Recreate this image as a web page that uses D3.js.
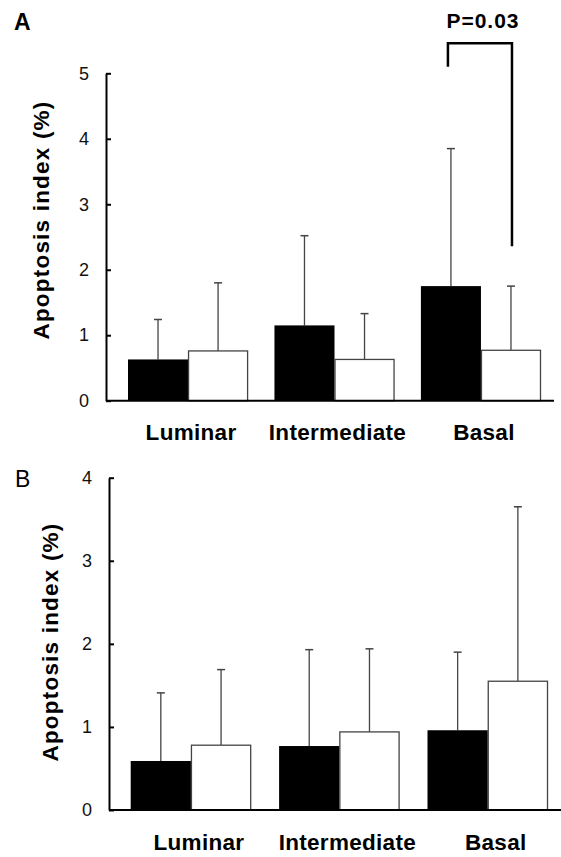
<!DOCTYPE html>
<html>
<head>
<meta charset="utf-8">
<script src="https://cdn.jsdelivr.net/npm/d3@7/dist/d3.min.js"></script>
<style>
  html, body { margin: 0; padding: 0; background: #fff; }
  svg { display: block; font-family: "Liberation Sans", Arial, Helvetica, sans-serif; }
</style>
</head>
<body>
<div id="chart"></div>
<script>
// categories and values
const categories = ["Luminar", "Intermediate", "Basal"];
const series = ["filled", "open"];

// panel A: means and SD
const aFilled = [0.63, 1.15, 1.75];
const aFilledSd = [0.61, 1.37, 2.10];
const aOpen = [0.76, 0.63, 0.77];
const aOpenSd = [1.04, 0.70, 0.98];
const aTicks = [0, 1, 2, 3, 4, 5];
const aBracket = [5.10, 5.46, 2.36]; // left end, top, right end
const aPText = "P=0.03";

// panel B
const bFilled = [0.59, 0.77, 0.96];
const bFilledSd = [0.82, 1.16, 0.94];
const bOpen = [0.78, 0.94, 1.55];
const bOpenSd = [0.91, 1.00, 2.10];
const bTicks = [0, 1, 2, 3, 4];

const yLabel = "Apoptosis index (%)";

const width = 561, height = 857;
const svg = d3.select("#chart").append("svg")
    .attr("width", width).attr("height", height);

function rows(filled, filledSd, open, openSd) {
    return categories.map((c, i) => ({
        cat: c,
        vals: [
            {s: "filled", v: filled[i], sd: filledSd[i]},
            {s: "open", v: open[i], sd: openSd[i]}
        ]
    }));
}

function drawPanel(opt) {
    const g = svg.append("g");
    const y = d3.scaleLinear().domain([0, opt.max]).range([opt.bottom, opt.top]);
    const x0 = d3.scaleBand().domain(categories).range(opt.barRange).paddingInner(opt.pad).paddingOuter(0);
    const x1 = d3.scaleBand().domain(series).range([0, x0.bandwidth()]);

    // y axis, ticks pointing inward
    const yAxis = d3.axisLeft(y).tickValues(opt.ticks).tickFormat(d3.format("d"))
        .tickSizeInner(-5).tickSizeOuter(0).tickPadding(17);
    const ya = g.append("g").attr("transform", "translate(" + opt.axisX + ",0)").call(yAxis);
    ya.attr("font-size", 18).attr("font-family", "Liberation Sans, Arial, sans-serif");
    ya.select(".domain").attr("stroke", "#000").attr("stroke-width", 2);
    ya.selectAll(".tick line").attr("stroke", "#000").attr("stroke-width", 2);
    ya.selectAll(".tick text").attr("font-size", 18).attr("fill", "#111");

    const data = rows(opt.filled, opt.filledSd, opt.open, opt.openSd);
    const grp = g.selectAll("g.grp").data(data).enter().append("g")
        .attr("class", "grp")
        .attr("transform", d => "translate(" + x0(d.cat) + ",0)");

    // error bars (upper only), drawn behind bars
    grp.selectAll("g.err").data(d => d.vals).enter().append("g")
        .attr("class", "err")
        .each(function(d) {
            const cx = x1(d.s) + x1.bandwidth() / 2;
            const e = d3.select(this);
            e.append("line").attr("x1", cx).attr("x2", cx)
                .attr("y1", y(d.v)).attr("y2", y(d.v + d.sd))
                .attr("stroke", "#444").attr("stroke-width", 1.3);
            e.append("line").attr("x1", cx - 4).attr("x2", cx + 4)
                .attr("y1", y(d.v + d.sd)).attr("y2", y(d.v + d.sd))
                .attr("stroke", "#444").attr("stroke-width", 1.5);
        });

    grp.selectAll("rect").data(d => d.vals).enter().append("rect")
        .attr("x", d => x1(d.s) + (d.s === "open" ? 0.5 : 0))
        .attr("y", d => y(d.v))
        .attr("width", d => x1.bandwidth() - (d.s === "open" ? 1 : 0))
        .attr("height", d => y(0) - y(d.v))
        .attr("fill", d => d.s === "filled" ? "#000" : "#fff")
        .attr("stroke", d => d.s === "filled" ? "#000" : "#444")
        .attr("stroke-width", d => d.s === "filled" ? 0 : 1.3);

    // x axis line
    g.append("line")
        .attr("x1", opt.axisX).attr("x2", opt.axisEnd)
        .attr("y1", y(0)).attr("y2", y(0))
        .attr("stroke", "#000").attr("stroke-width", 2);

    // category labels
    g.selectAll("text.cat").data(categories).enter().append("text")
        .attr("class", "cat")
        .attr("x", d => x0(d) + x0.bandwidth() / 2 + opt.catShift)
        .attr("y", opt.catY)
        .attr("text-anchor", "middle")
        .attr("font-size", 22.5)
        .attr("font-weight", "bold")
        .attr("letter-spacing", 0.3)
        .text(d => d);

    // y label
    g.append("text")
        .attr("transform", "translate(" + opt.labelX + "," + opt.labelY + ") rotate(-90)")
        .attr("text-anchor", "middle")
        .attr("font-size", 22.5)
        .attr("font-weight", "bold")
        .attr("letter-spacing", 1.2)
        .text(yLabel);

    // panel letter
    g.append("text")
        .attr("x", opt.letterX).attr("y", opt.letterY)
        .attr("font-size", 23)
        .attr("font-weight", opt.letterWeight)
        .text(opt.letter);

    return {g, x0, x1, y};
}

const pa = drawPanel({
    letter: "A", letterX: 14, letterY: 29.5, letterWeight: "bold",
    max: 5, ticks: aTicks, top: 73.3, bottom: 400.7,
    axisX: 106, axisEnd: 554, barRange: [128, 541], pad: 0.18,
    filled: aFilled, filledSd: aFilledSd, open: aOpen, openSd: aOpenSd,
    catY: 439.5, catShift: 3, labelX: 48.5, labelY: 220
});

const pb = drawPanel({
    letter: "B", letterX: 15, letterY: 487, letterWeight: "normal",
    max: 4, ticks: bTicks, top: 477.7, bottom: 810,
    axisX: 109, axisEnd: 561, barRange: [130.7, 548], pad: 0.188,
    filled: bFilled, filledSd: bFilledSd, open: bOpen, openSd: bOpenSd,
    catY: 850, catShift: 8, labelX: 57.5, labelY: 642
});

// significance bracket on panel A, Basal group
const bx = pa.x0("Basal");
const leftX = bx + pa.x1("filled") + pa.x1.bandwidth() / 2 - 3;
const rightX = bx + pa.x1("open") + pa.x1.bandwidth() / 2 + 1;
pa.g.append("path")
    .attr("d", "M" + leftX + "," + pa.y(aBracket[0]) +
               "V" + pa.y(aBracket[1]) +
               "H" + rightX +
               "V" + pa.y(aBracket[2]))
    .attr("fill", "none")
    .attr("stroke", "#000")
    .attr("stroke-width", 2.5);

pa.g.append("text")
    .attr("x", (leftX + rightX) / 2 + 3)
    .attr("y", 27.5)
    .attr("text-anchor", "middle")
    .attr("font-size", 21)
    .attr("font-weight", "bold")
    .attr("letter-spacing", 1)
    .text(aPText);
</script>
</body>
</html>
